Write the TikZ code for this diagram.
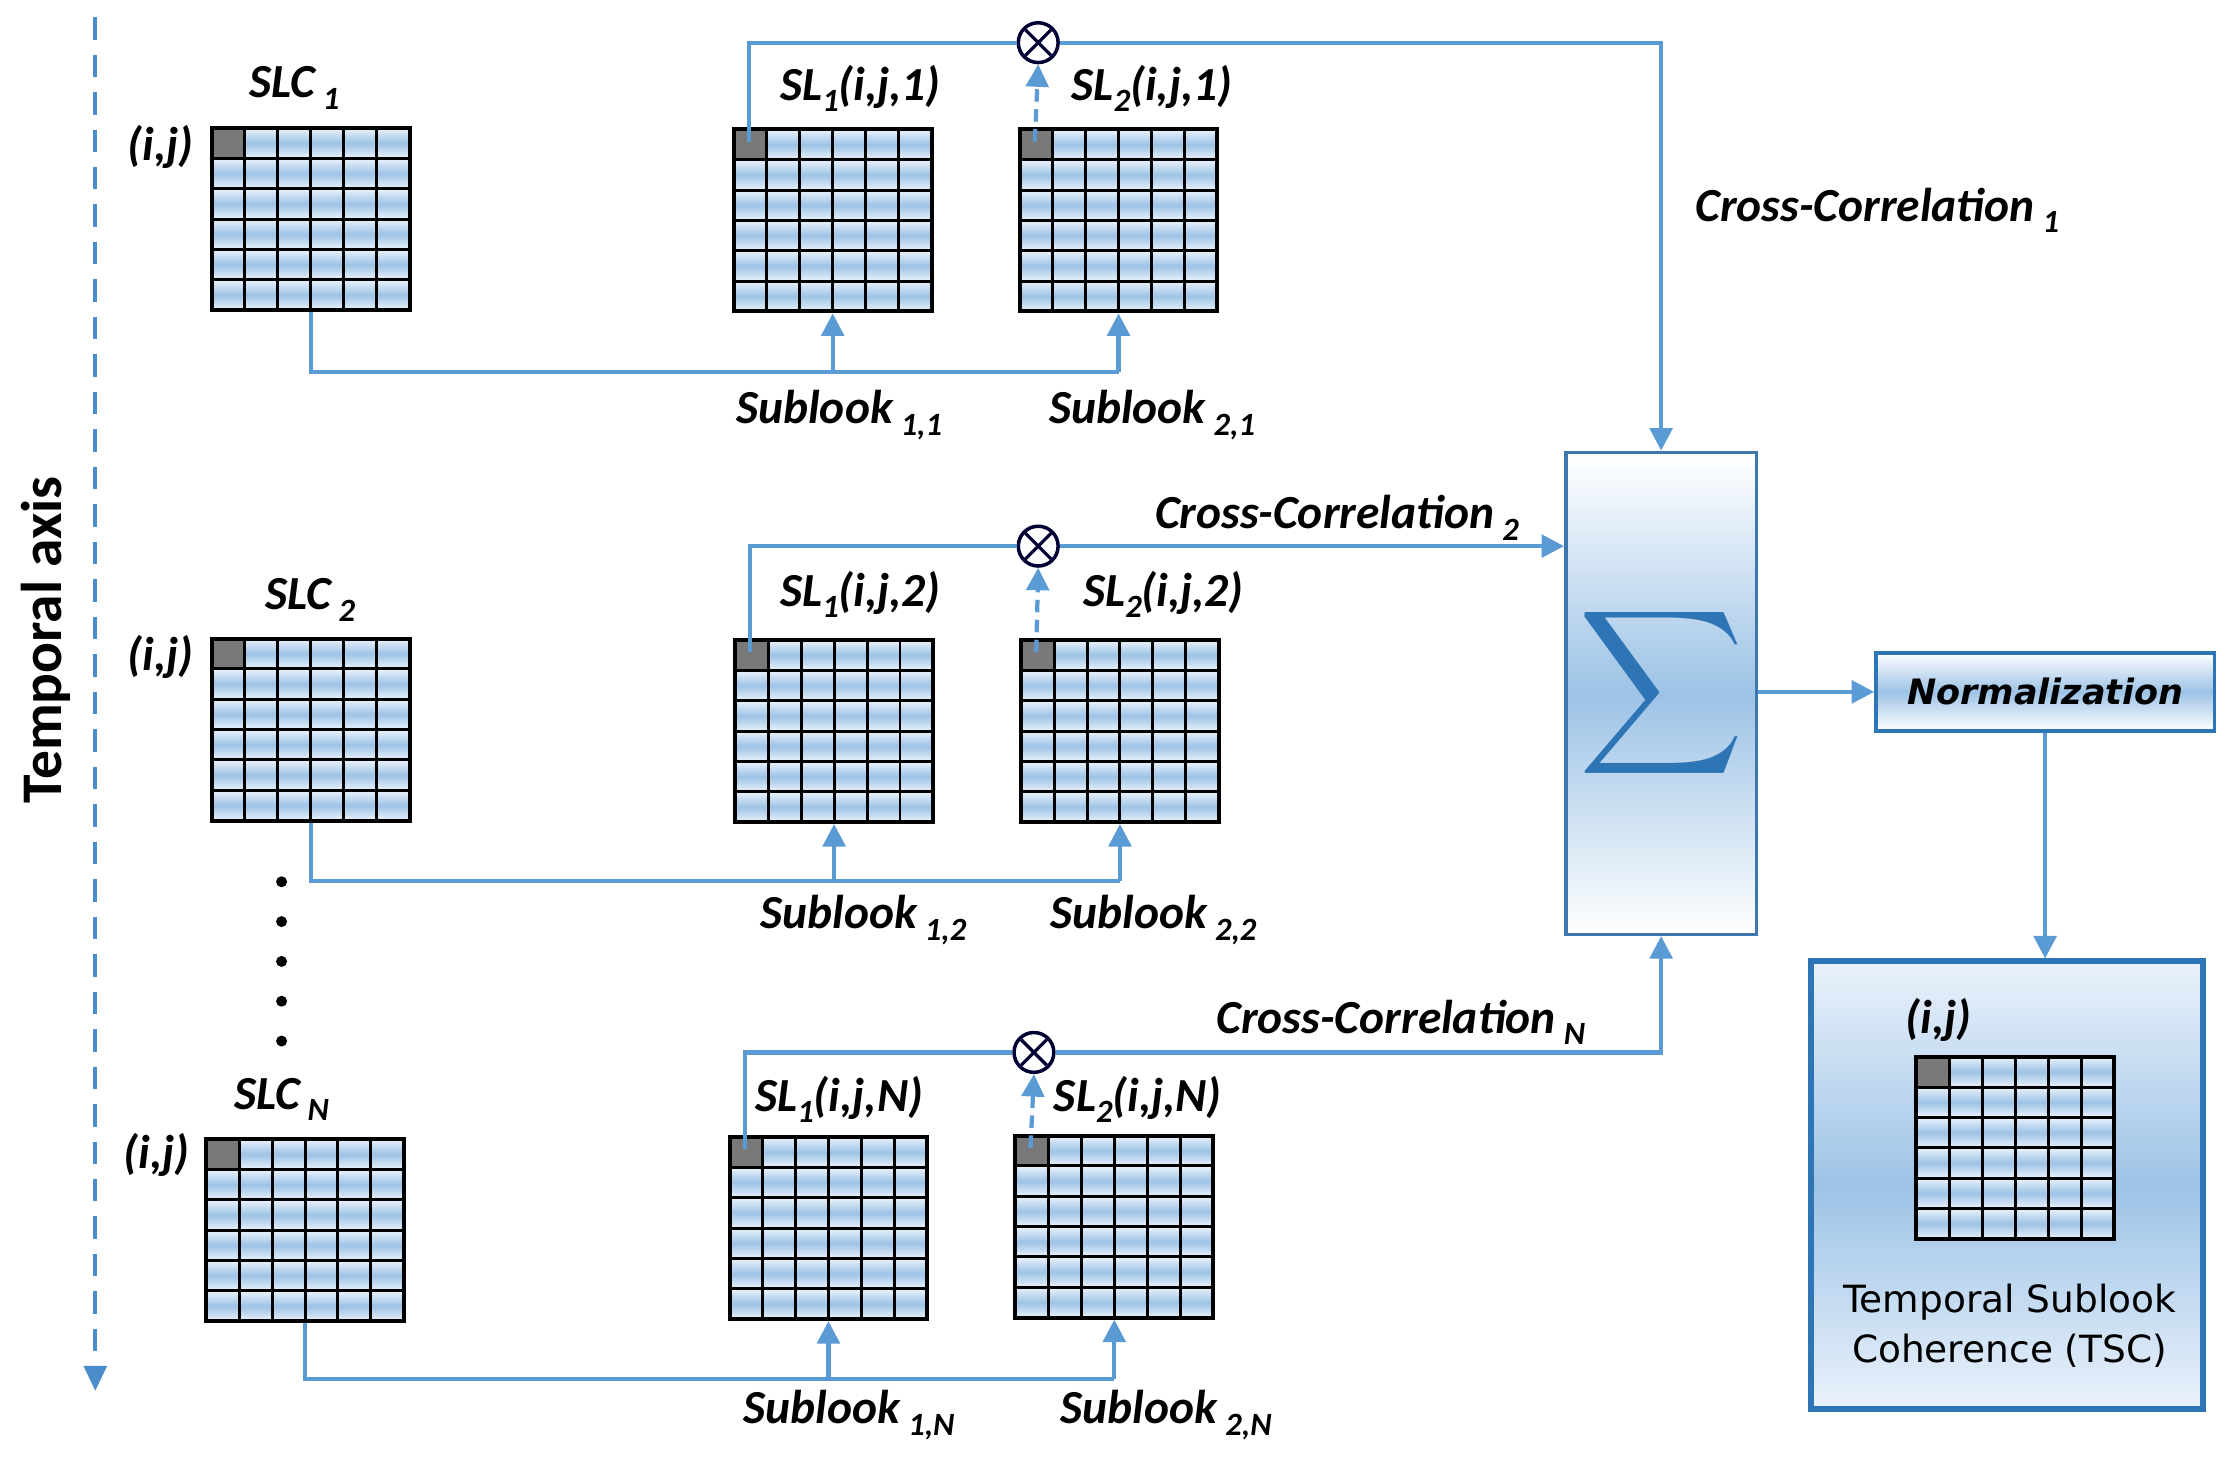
\documentclass[tikz,border=0pt]{standalone}
\usepackage{fontspec}
\setmainfont{Carlito}
\newfontfamily\verd{DejaVu Sans}
\usetikzlibrary{calc,arrows.meta,positioning}
\definecolor{lnblue}{HTML}{5B9BD5}
\definecolor{bxblue}{HTML}{2E75B6}
\definecolor{cellhi}{HTML}{EAF2FB}
\definecolor{cellmid}{HTML}{9DC3E6}
\newcommand\lowidx[1]{\,\raisebox{-0.5ex}{\fontsize{13}{14}\selectfont #1}}
\newcommand\tsub[1]{\raisebox{-0.5ex}{\fontsize{13}{14}\selectfont #1}}
\tikzset{
  grid/.style={minimum width=2.78cm,minimum height=2.56cm,inner sep=0pt,
    path picture={
      \foreach \i in {0,...,5}
        \foreach \j in {0,...,5}
          \shade[top color=cellhi,bottom color=cellhi,middle color=cellmid]
            ($(path picture bounding box.north west)+(\i*0.4633cm,-\j*0.4267cm)$)
            rectangle ++(0.4633cm,-0.4267cm);
      \fill[gray!95!black]
        (path picture bounding box.north west) rectangle ++(0.4633cm,-0.4267cm);
      \foreach \i in {1,...,5}{
        \draw[line width=1.2pt] ($(path picture bounding box.north west)+(\i*0.4633cm,0)$) -- ++(0,-2.56cm);
        \draw[line width=1.2pt] ($(path picture bounding box.north west)+(0,-\i*0.4267cm)$) -- ++(2.78cm,0);}
    },draw=black,line width=1.6pt},
  conn/.style={draw=lnblue,line width=1.7pt},
  arr/.style={-{Triangle[width=9pt,length=9pt]}},
  mul/.style={circle,draw=black!80!blue,line width=1.4pt,minimum size=0.56cm,inner sep=0pt,fill=white,
    path picture={\draw[line width=1.3pt,black!80!blue]
      ($(path picture bounding box.center)+(-0.18cm,-0.18cm)$) -- ++(0.36cm,0.36cm)
      ($(path picture bounding box.center)+(-0.18cm,0.18cm)$) -- ++(0.36cm,-0.36cm);}},
  lbl/.style={font=\fontsize{19}{22}\selectfont\bfseries\itshape,inner sep=0pt}
}
\begin{document}
\begin{tikzpicture}[x=0.02cm,y=-0.02cm]
  \useasboundingbox (0,0) rectangle (1568,1027);

  % temporal axis
  \draw[lnblue!60!bxblue,line width=1.7pt,dashed,dash pattern=on 9pt off 6pt,-{Triangle[width=9pt,length=10pt]}]
    (67,12) coordinate (ta0) -- (67,978) coordinate (ta1);
  \node[rotate=90,font=\fontsize{23}{26}\selectfont\bfseries,inner sep=0pt] (tlab) at (32,450) {Temporal axis};

  % the grids
  \foreach \name/\pos in {slc1/{(218.5,154)},sl11/{(585.5,155)},sl21/{(786.5,155)},
      slc2/{(218.5,513)},sl12/{(586.5,514)},sl22/{(787.5,514)},
      slcN/{(214.5,865)},sl1N/{(582.5,863.5)},sl2N/{(783.5,862.5)}}
    \node[grid] (\name) at \pos {};

  % labels above the grids
  \node[lbl] (tslc1) at (207,62) {SLC\lowidx{1}};
  \node[lbl] (tij1) at (113,103) {(i,j)};
  \node[lbl] (tsl11) at (605,62) {SL\tsub{1}(i,j,1)};
  \node[lbl] (tsl21) at (810,62) {SL\tsub{2}(i,j,1)};
  \node[lbl] (tslc2) at (218,422) {SLC\lowidx{2}};
  \node[lbl] (tij2) at (113,462) {(i,j)};
  \node[lbl] (tsl12) at (605,418) {SL\tsub{1}(i,j,2)};
  \node[lbl] (tsl22) at (818,418) {SL\tsub{2}(i,j,2)};
  \node[lbl] (tslcN) at (198,773) {SLC\lowidx{N}};
  \node[lbl] (tijN) at (110,812) {(i,j)};
  \node[lbl] (tsl1N) at (590,773) {SL\tsub{1}(i,j,N)};
  \node[lbl] (tsl2N) at (800,773) {SL\tsub{2}(i,j,N)};

  % dots
  \foreach \k in {0,...,4}
    \fill (198,620+\k*28) circle (2.2pt);

  % sublook feeds
  \foreach \row/\dy in {1/42,2/41,N/39}{
    \coordinate (b\row) at ($(slc\row.south)+(0,\dy)$);
    \draw[conn] (slc\row.south) -- (b\row) -- (b\row -| sl2\row.south);
    \draw[conn,arr] (b\row -| sl1\row.south) -- (sl1\row.south);
    \draw[conn,arr] (b\row -| sl2\row.south) -- (sl2\row.south);
  }
  \node[lbl] (ls11) at (590,292) {Sublook\lowidx{1,1}};
  \node[lbl] (ls21) at (810,292) {Sublook\lowidx{2,1}};
  \node[lbl] (ls12) at (607,647) {Sublook\lowidx{1,2}};
  \node[lbl] (ls22) at (811,647) {Sublook\lowidx{2,2}};
  \node[lbl] (ls1N) at (597,995) {Sublook\lowidx{1,N}};
  \node[lbl] (ls2N) at (820,995) {Sublook\lowidx{2,N}};

  % summation, normalization, result
  \node[draw=bxblue!80!gray,line width=1.4pt,minimum width=2.68cm,minimum height=6.78cm,
    top color=white,bottom color=white,middle color=cellmid] (sum) at (1168,487.5)
    {\color{bxblue}\scalebox{4.6}{$\displaystyle\sum$}};
  \node[draw=bxblue,line width=1.4pt,minimum width=4.76cm,minimum height=1.1cm,
    top color=white,bottom color=white,middle color=cellmid,
    font=\verd\fontsize{14}{16}\selectfont\bfseries\itshape] (norm) at (1438,486.5) {Normalization};
  \node[draw=bxblue,line width=2.4pt,minimum width=5.52cm,minimum height=6.3cm,
    top color=cellhi,bottom color=cellhi,middle color=cellmid] (tsc) at (1411,833.5) {};
  \node[grid] (tscg) at (1417,807) {};
  \node[lbl] (tijT) at (1363,717) {(i,j)};
  \node[font=\verd\fontsize{15}{20}\selectfont,align=center,inner sep=0pt] (tsct) at (1413,932)
    {Temporal Sublook\\Coherence (TSC)};
  \draw[conn,arr] (sum.east |- norm) -- (norm.west);
  \draw[conn,arr] (norm.south) -- (tsc.north -| norm.south);

  % cross correlations
  \node[mul] (x1) at (730,30) {};
  \node[mul] (x2) at (730,384) {};
  \node[mul] (xN) at (727,740) {};
  \foreach \row in {1,2,N}{
    \coordinate (p\row) at ($(sl1\row.north west)+(12,10)$);
    \coordinate (q\row) at ($(sl2\row.north west)+(12,10)$);
    \draw[conn] (p\row) |- (x\row.west);
    \draw[conn,dashed,dash pattern=on 5pt off 3pt,arr] (q\row) -- (x\row.south);
  }
  \draw[conn,arr] (x1.east) -| (sum.north);
  \draw[conn,arr] (x2.east) -- (sum.west |- x2);
  \draw[conn,arr] (xN.east) -| (sum.south);
  \node[lbl] (cc1) at (1320,148) {Cross-Correlation\lowidx{1}};
  \node[lbl] (cc2) at (940,364) {Cross-Correlation\lowidx{2}};
  \node[lbl] (ccN) at (985,719) {Cross-Correlation\lowidx{N}};
\end{tikzpicture}
\end{document}
